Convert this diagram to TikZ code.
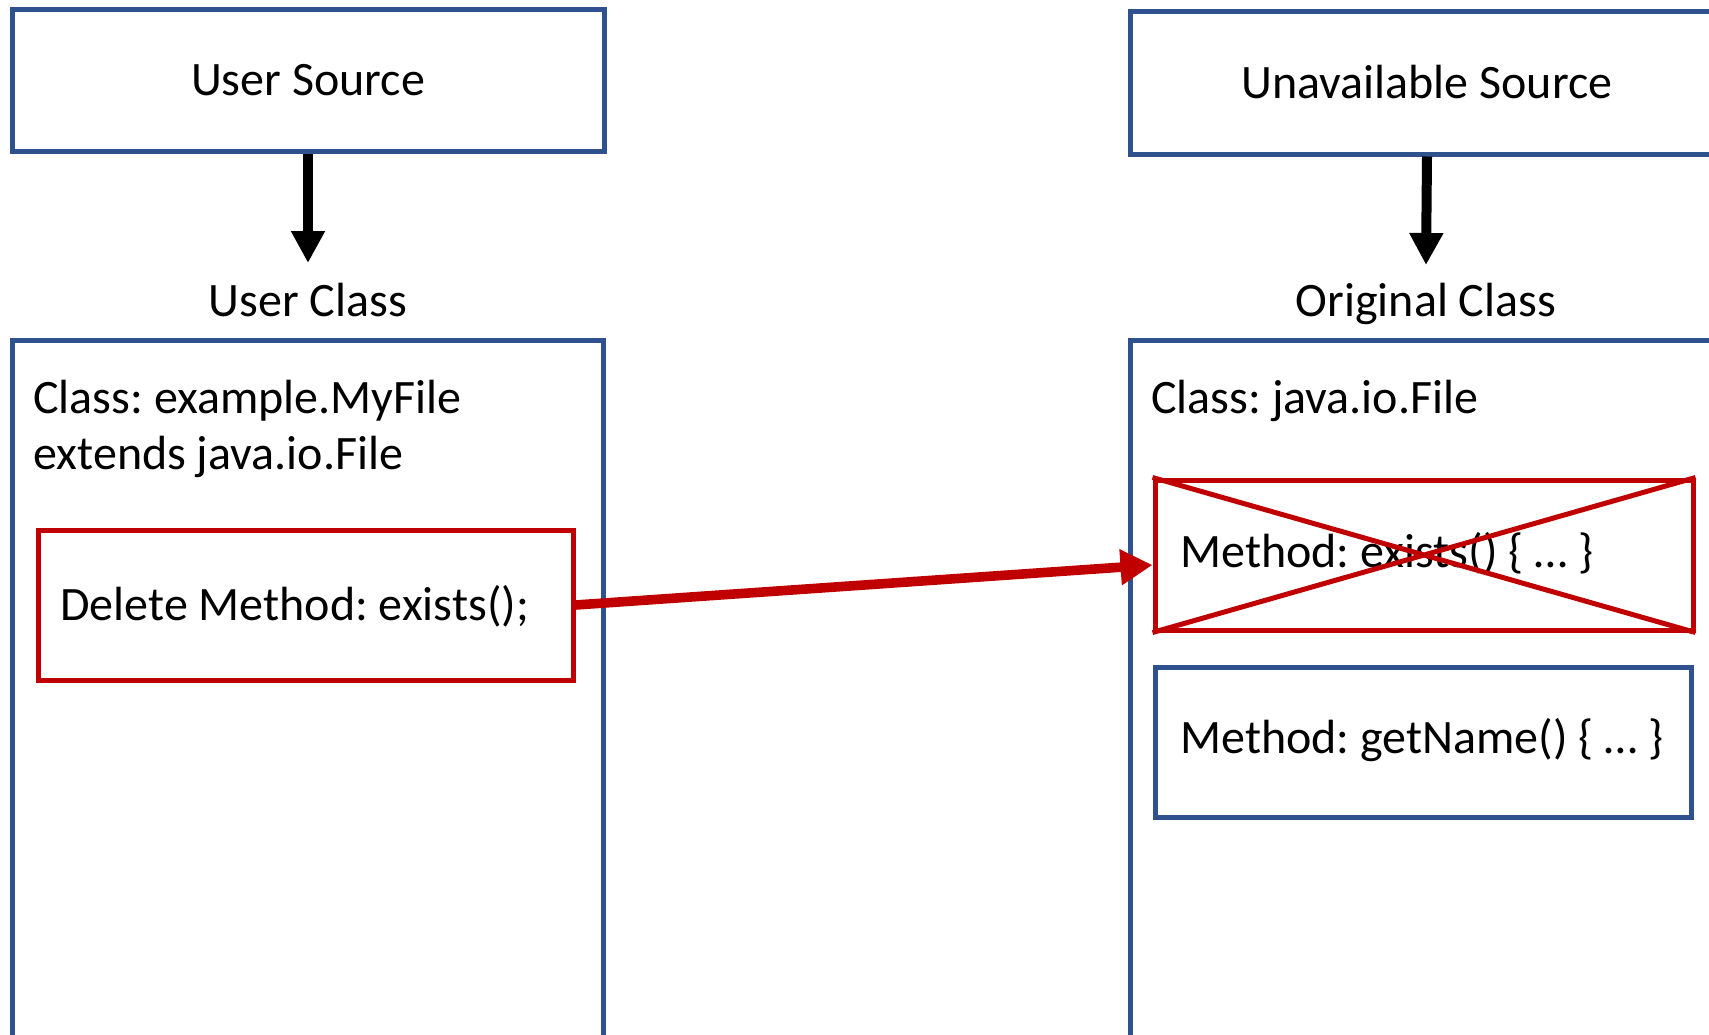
\documentclass[tikz,border=0pt]{standalone}
\usepackage{fontspec}
\setmainfont{Carlito}
\usetikzlibrary{arrows.meta}
\definecolor{boxblue}{HTML}{2F528F}
\definecolor{boxred}{HTML}{C00000}
\frenchspacing
\begin{document}
\begin{tikzpicture}[x=0.5pt,y=-0.5pt,
  every node/.style={font=\fontsize{24}{28}\selectfont, inner sep=0pt},
  bluebox/.style={draw=boxblue, line width=2.5pt, rectangle},
  redbox/.style={draw=boxred, line width=2.5pt},
  lbl/.style={anchor=base west},
  flow/.style={line width=5pt, -{Triangle[length=16pt,width=16pt]}},
  redflow/.style={draw=boxred, line width=4.8pt, -{Triangle[length=16pt,width=17pt]}}
]
\useasboundingbox (0,0) rectangle (1709,1034);
\clip (0,0) rectangle (1709,1034);
% left column
\node[bluebox, minimum width=296pt, minimum height=71pt] (us) at (308,80) {User Source};
\node[anchor=base] (ucl) at (308,316) {User Class};
\coordinate (ucin) at (308,263);
\draw[flow] (us.south) -- (ucin);
\node[bluebox, minimum width=295.5pt, minimum height=380pt] (ucb) at (307.5,720) {};
\node[lbl] (uct1) at (33,413) {Class: example.MyFile};
\node[lbl] (uct2) at (33,469) {extends java.io.File};
\node[redbox, minimum width=267.5pt, minimum height=75pt] (del) at (305.5,605) {};
\node[lbl] (delt) at (60,620) {Delete Method: exists();};
% right column
\node[bluebox, minimum width=297pt, minimum height=71.5pt] (ub) at (1427,82.5) {Unavailable Source};
\node[anchor=base] (ocl) at (1426,316) {Original Class};
\coordinate (ocin) at (1426,265);
\draw[flow] (ub.south) -- (ocin);
\node[bluebox, minimum width=297pt, minimum height=380pt] (ocb) at (1427,720) {};
\node[lbl] (oct) at (1151,413) {Class: java.io.File};
\node[redbox, minimum width=269pt, minimum height=75pt] (ex) at (1424,555) {};
\node[lbl] (ext) at (1180,567) {Method: exists() \{ … \}};
\draw[redbox] (ex.north west) -- (ex.south east) (ex.south west) -- (ex.north east);
\node[bluebox, minimum width=268pt, minimum height=75pt] (gn) at (1423,742) {};
\node[lbl] (gnt) at (1180,753) {Method: getName() \{ … \}};
% connector
\draw[redflow] (del.east) -- ([yshift=-5pt]ex.west);
\end{tikzpicture}
\end{document}
